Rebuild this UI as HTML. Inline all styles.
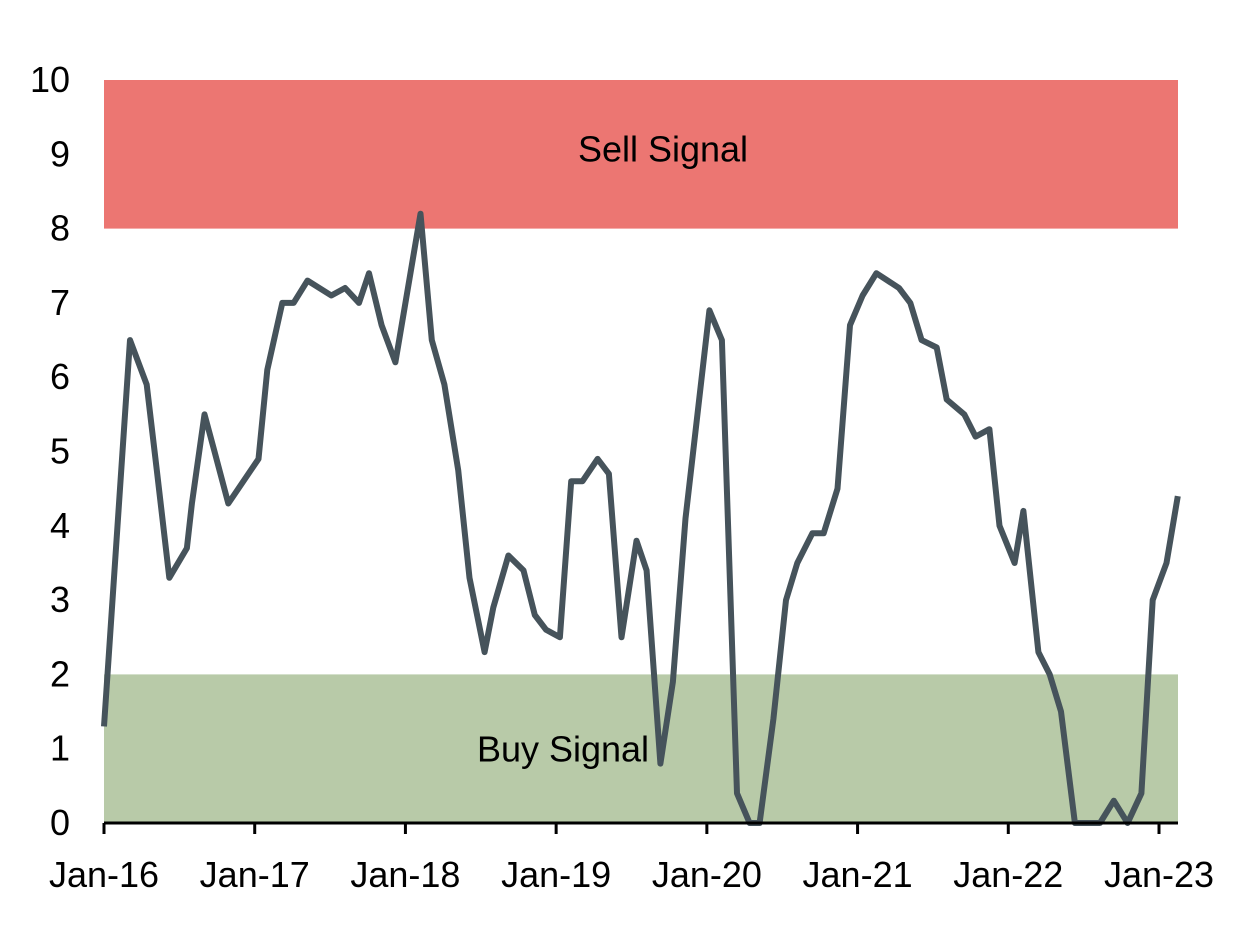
<!DOCTYPE html>
<html><head><meta charset="utf-8"><style>
body{margin:0;background:#fff;}
svg{display:block;font-family:"Liberation Sans",Arial,sans-serif;}
</style></head><body>
<svg id="chart" width="1249" height="949" viewBox="0 0 1249 949"></svg>
<script>
const months=[0,2.07,3.4,4.2,5.2,6.6,7.0,8.0,8.8,9.9,12.3,13,14.2,15.1,16.2,18.1,19.2,20.3,21.1,22.1,23.2,25.2,26.1,27.1,28.2,29.1,30.3,31,32.2,33.4,34.3,35.2,36.3,37.2,38.1,39.3,40.2,41.2,42.4,43.2,44.3,45.3,46.3,48.2,49.2,50.4,51.4,52.2,53.3,54.3,55.2,56.4,57.3,58.4,59.4,60.4,61.5,63.3,64.2,65.1,66.3,67.1,68.5,69.4,70.5,71.3,72.5,73.2,74.4,75.3,76.2,77.3,79.3,80.4,81.5,82.6,83.5,84.6,85.5];
const values=[1.3,6.5,5.9,4.75,3.3,3.7,4.3,5.5,5.0,4.3,4.9,6.1,7.0,7.0,7.3,7.1,7.2,7.0,7.4,6.7,6.2,8.2,6.5,5.9,4.75,3.3,2.3,2.9,3.6,3.4,2.8,2.6,2.5,4.6,4.6,4.9,4.7,2.5,3.8,3.4,0.8,1.9,4.1,6.9,6.5,0.4,0,0,1.4,3.0,3.5,3.9,3.9,4.5,6.7,7.1,7.4,7.2,7.0,6.5,6.4,5.7,5.5,5.2,5.3,4.0,3.5,4.2,2.3,2.0,1.5,0,0,0.3,0,0.4,3.0,3.5,4.4];
const yTicks=[0,1,2,3,4,5,6,7,8,9,10];
const xTickLabels=["Jan-16","Jan-17","Jan-18","Jan-19","Jan-20","Jan-21","Jan-22","Jan-23"];
const bands=[{lo:8,hi:10,label:"Sell Signal",color:"#EC7672",name:"sell-signal-band"},{lo:0,hi:2,label:"Buy Signal",color:"#B8CAA8",name:"buy-signal-band"}];

const X0=104,XR=1178,PXM=(1159-104)/84;
const x=m=>X0+m*PXM;
const y=v=>823-v*74.3;
const svg=document.getElementById('chart');
const NS="http://www.w3.org/2000/svg";
function mk(tag,attrs,parent){const e=document.createElementNS(NS,tag);for(const k in attrs)e.setAttribute(k,attrs[k]);(parent||svg).appendChild(e);return e;}

bands.forEach(b=>{
  const r=mk('rect',{x:X0,y:y(b.hi),width:XR-X0,height:y(b.lo)-y(b.hi),fill:b.color});
  
  
});
const t1=mk('text',{x:663,y:y(9)+7,'text-anchor':'middle','font-size':36,fill:'#000'});
t1.textContent=bands[0].label;


const t2=mk('text',{x:563,y:y(1)+13,'text-anchor':'middle','font-size':36,fill:'#000'});
t2.textContent=bands[1].label;



yTicks.forEach(v=>{
  const t=mk('text',{x:70,y:y(v)+12,'text-anchor':'end','font-size':36,fill:'#000'});
  t.textContent=v;
  
  
});

const pts=months.map((m,i)=>x(m).toFixed(1)+','+y(values[i]).toFixed(1)).join(' ');
const line=mk('polyline',{points:pts,fill:'none',stroke:'#46535B','stroke-width':6,'stroke-linejoin':'round'});



const ax=mk('line',{x1:X0,y1:823,x2:XR,y2:823,stroke:'#000','stroke-width':3});


xTickLabels.forEach((l,i)=>{
  const tk=mk('line',{x1:x(i*12),y1:823,x2:x(i*12),y2:834,stroke:'#000','stroke-width':3});
  
  
  const t=mk('text',{x:x(i*12),y:887,'text-anchor':'middle','font-size':36,fill:'#000'});
  t.textContent=l;
  
  
});
</script>
</body></html>
